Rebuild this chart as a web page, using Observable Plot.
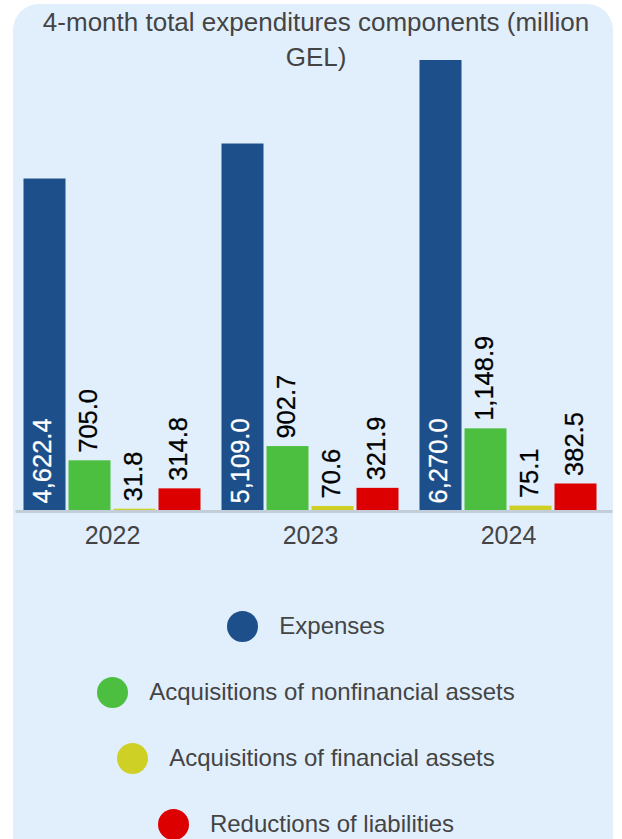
<!DOCTYPE html>
<html><head><meta charset="utf-8">
<script src="https://cdn.jsdelivr.net/npm/d3@7"></script>
<script src="https://cdn.jsdelivr.net/npm/@observablehq/plot@0.6"></script>
<style>
body{margin:0;background:#fff;}
#wrap{position:relative;width:622px;height:839px;overflow:hidden;font-family:"Liberation Sans",Arial,sans-serif;}
#panel{position:absolute;left:13px;top:4px;width:600px;height:900px;border-radius:26px;background:#e1effd;}
#title{position:absolute;left:0;top:4.5px;width:632px;text-align:center;font-size:26px;line-height:35px;color:#444;}
#chart{position:absolute;left:0;top:0;}
#legend{position:absolute;left:0;top:593px;width:612px;}
.row{height:66px;display:flex;align-items:center;justify-content:center;}
.dot{width:31px;height:31px;border-radius:50%;margin-right:21px;flex:none;}
.lab{font-size:24px;color:#444;white-space:nowrap;}
</style></head>
<body>
<div id="wrap">
  <div id="panel"></div>
  <div id="chart"></div>
  <div id="title">4-month total expenditures components (million<br>GEL)</div>
  <div id="legend"></div>
</div>
<script>
const years = ["2022", "2023", "2024"];
const series = ["Expenses", "Acquisitions of nonfinancial assets", "Acquisitions of financial assets", "Reductions of liabilities"];
const colors = ["#1d4f8a", "#4cbf41", "#cfd026", "#dd0000"];
const expenses = [4622.4, 5109.0, 6270.0];
const nonfinancial = [705.0, 902.7, 1148.9];
const financial = [31.8, 70.6, 75.1];
const liabilities = [314.8, 321.9, 382.5];

const valuesBySeries = [expenses, nonfinancial, financial, liabilities];
const data = [];
years.forEach((year, i) => {
  series.forEach((s, j) => data.push({year, series: s, value: valuesBySeries[j][i]}));
});
const fmt = d3.format(",.1f");
const inside = data.filter(d => d.series === "Expenses");
const above = data.filter(d => d.series !== "Expenses");

const chart = Plot.plot({
  width: 622,
  height: 560,
  marginLeft: 12.5,
  marginRight: 15.5,
  marginTop: 60,
  marginBottom: 49,
  style: {background: "transparent", fontFamily: "'Liberation Sans', Arial, sans-serif", overflow: "visible"},
  fx: {domain: years, padding: 0, label: null},
  x: {domain: series, paddingInner: 0.0652, paddingOuter: 0.185, axis: null},
  y: {domain: [0, 6270], axis: null},
  color: {domain: series, range: colors},
  marks: [
    Plot.barY(data, {fx: "year", x: "series", y: "value", fill: "series"}),
    Plot.ruleY([0], {stroke: "#c3cdd8", strokeWidth: 3, insetLeft: 2.5, insetRight: -5.5}),
    Plot.text(inside, {fx: "year", x: "series", frameAnchor: "bottom", lineAnchor: "middle", text: d => fmt(d.value), rotate: -90, textAnchor: "start", fill: "white", stroke: "white", strokeWidth: 0.3, fontSize: 25.5, dy: -8, dx: -2}),
    Plot.text(above, {fx: "year", x: "series", y: "value", lineAnchor: "middle", text: d => fmt(d.value), rotate: -90, textAnchor: "start", fill: "black", stroke: "black", strokeWidth: 0.3, fontSize: 25.5, dy: -8, dx: -1.5}),
    Plot.axisFx({anchor: "bottom", tickSize: 0, tickPadding: 15, fontSize: 25, fill: "#444", label: null})
  ]
});
document.getElementById("chart").appendChild(chart);

const legend = document.getElementById("legend");
series.forEach((s, j) => {
  const row = document.createElement("div");
  row.className = "row";
  const dot = document.createElement("div");
  dot.className = "dot";
  dot.style.background = colors[j];
  const lab = document.createElement("span");
  lab.className = "lab";
  lab.textContent = s;
  row.appendChild(dot);
  row.appendChild(lab);
  legend.appendChild(row);
});
</script>
</body></html>
